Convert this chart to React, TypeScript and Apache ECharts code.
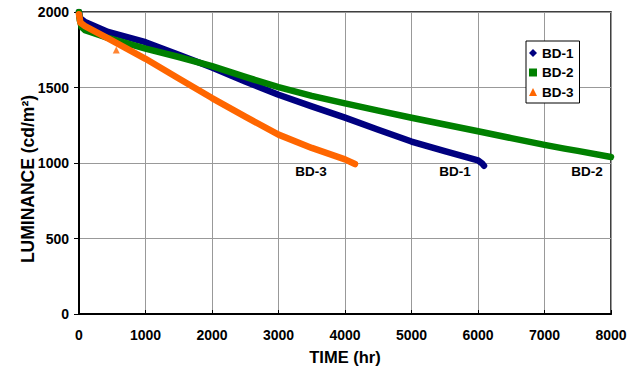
import React, { useEffect, useRef } from "react";
import * as echarts from "echarts";

const bd1Hours = [0, 15, 90, 436, 1000, 1500, 2000, 2500, 3000, 3500, 4000, 4500, 5000, 5500, 6000, 6060, 6090];
const bd1Values = [2000, 1960, 1934, 1868, 1800, 1717, 1632, 1540, 1452, 1375, 1300, 1220, 1142, 1078, 1017, 998, 982];

const bd2Hours = [0, 10, 40, 90, 436, 1000, 1500, 2000, 2500, 3000, 3500, 4000, 4500, 5000, 5500, 6000, 6500, 7000, 7300, 7500, 8000];
const bd2Values = [2000, 1950, 1900, 1880, 1828, 1758, 1702, 1642, 1570, 1502, 1445, 1395, 1347, 1300, 1255, 1210, 1165, 1120, 1095, 1080, 1040];

const bd3Hours = [0, 20, 90, 436, 1000, 1500, 2000, 2500, 3000, 3500, 4000, 4150];
const bd3Values = [1985, 1930, 1907, 1825, 1690, 1560, 1430, 1307, 1188, 1100, 1024, 993];

const bd3OutlierHours = [560];
const bd3OutlierValues = [1748];

const xTicks = [0, 1000, 2000, 3000, 4000, 5000, 6000, 7000, 8000];
const yTicks = [0, 500, 1000, 1500, 2000];

const endLabels = [
  { name: "BD-3", hour: 3490, value: 947 },
  { name: "BD-1", hour: 5654, value: 947 },
  { name: "BD-2", hour: 7639, value: 947 },
];

const FONT = "'Liberation Sans', Arial, sans-serif";

const pairs = (xs: number[], ys: number[]) => xs.map((x, i) => [x, ys[i]]);

export default function App() {
  const ref = useRef<HTMLDivElement>(null);
  useEffect(() => {
    if (!ref.current) return;
    const chart = echarts.init(ref.current, undefined, { renderer: "svg" });
    const labelStyle = { fontFamily: FONT, fontWeight: "bold" as const, fontSize: 14, color: "#000" };
    const lineCommon = {
      type: "line",
      showSymbol: false,
      smooth: false,
    };
    chart.setOption({
      animation: false,
      backgroundColor: "#fff",
      grid: {
        left: 79,
        right: 26,
        top: 12,
        bottom: 60,
        show: true,
        borderColor: "#000",
        borderWidth: 1.5,
        backgroundColor: "transparent",
      },
      graphic: [
        {
          type: "text",
          x: 28,
          y: 179,
          rotation: Math.PI / 2,
          style: {
            text: "LUMINANCE (cd/m²)",
            fontFamily: FONT,
            fontWeight: "bold",
            fontSize: 17.5,
            fill: "#000",
            align: "center",
            verticalAlign: "middle",
          },
        },
      ],
      legend: {
        orient: "vertical",
        left: 526,
        top: 41,
        padding: [5, 6, 4, 3],
        itemGap: 5.5,
        itemWidth: 8,
        itemHeight: 8,
        borderColor: "#000",
        borderWidth: 1,
        backgroundColor: "#fff",
        textStyle: { ...labelStyle, fontSize: 13.5 },
        data: [
          { name: "BD-1", icon: "diamond" },
          { name: "BD-2", icon: "rect" },
          { name: "BD-3", icon: "triangle" },
        ],
      },
      xAxis: {
        type: "value",
        min: 0,
        max: 8000,
        interval: 1000,
        name: "TIME (hr)",
        nameLocation: "middle",
        nameGap: 34,
        nameTextStyle: { ...labelStyle, fontSize: 16.5 },
        axisLine: { show: true, lineStyle: { color: "#000", width: 2 } },
        axisTick: { show: true, inside: true, length: 4, lineStyle: { color: "#000" } },
        axisLabel: { ...labelStyle, margin: 14, formatter: (v: number) => (xTicks.includes(v) ? String(v) : "") },
        splitLine: { show: true, lineStyle: { color: "#999", width: 1 } },
      },
      yAxis: {
        type: "value",
        min: 0,
        max: 2000,
        interval: 500,
        axisLine: { show: true, lineStyle: { color: "#000", width: 2 } },
        axisTick: { show: true, inside: false, length: 5, lineStyle: { color: "#000" } },
        axisLabel: { ...labelStyle, margin: 10, formatter: (v: number) => (yTicks.includes(v) ? String(v) : "") },
        splitLine: { show: true, lineStyle: { color: "#999", width: 1 } },
      },
      series: [
        {
          ...lineCommon,
          name: "BD-1",
          data: pairs(bd1Hours, bd1Values),
          symbol: "diamond",
          color: "#000080",
          lineStyle: { width: 6.5, color: "#000080", cap: "round", join: "round" },
          z: 3,
          markPoint: {
            symbol: "circle",
            symbolSize: 1,
            itemStyle: { color: "transparent" },
            label: { show: true, position: "inside", formatter: "{b}", ...labelStyle, fontSize: 13.5 },
            data: endLabels.map((l) => ({ name: l.name, coord: [l.hour, l.value] })),
          },
        },
        {
          ...lineCommon,
          name: "BD-2",
          data: pairs(bd2Hours, bd2Values),
          symbol: "rect",
          color: "#008000",
          lineStyle: { width: 6.5, color: "#008000", cap: "round", join: "round" },
          z: 4,
        },
        {
          ...lineCommon,
          name: "BD-3",
          data: pairs(bd3Hours, bd3Values),
          symbol: "triangle",
          color: "#FF6600",
          lineStyle: { width: 6.5, color: "#FF6600", cap: "round", join: "round" },
          z: 5,
        },
        {
          name: "BD-3",
          type: "scatter",
          data: pairs(bd3OutlierHours, bd3OutlierValues),
          symbol: "triangle",
          symbolSize: 7,
          itemStyle: { color: "#FF6600" },
          z: 5,
        },
      ],
    });
    return () => chart.dispose();
  }, []);
  return <div ref={ref} style={{ position: "fixed", left: 0, top: 0, width: 637, height: 374 }} />;
}
